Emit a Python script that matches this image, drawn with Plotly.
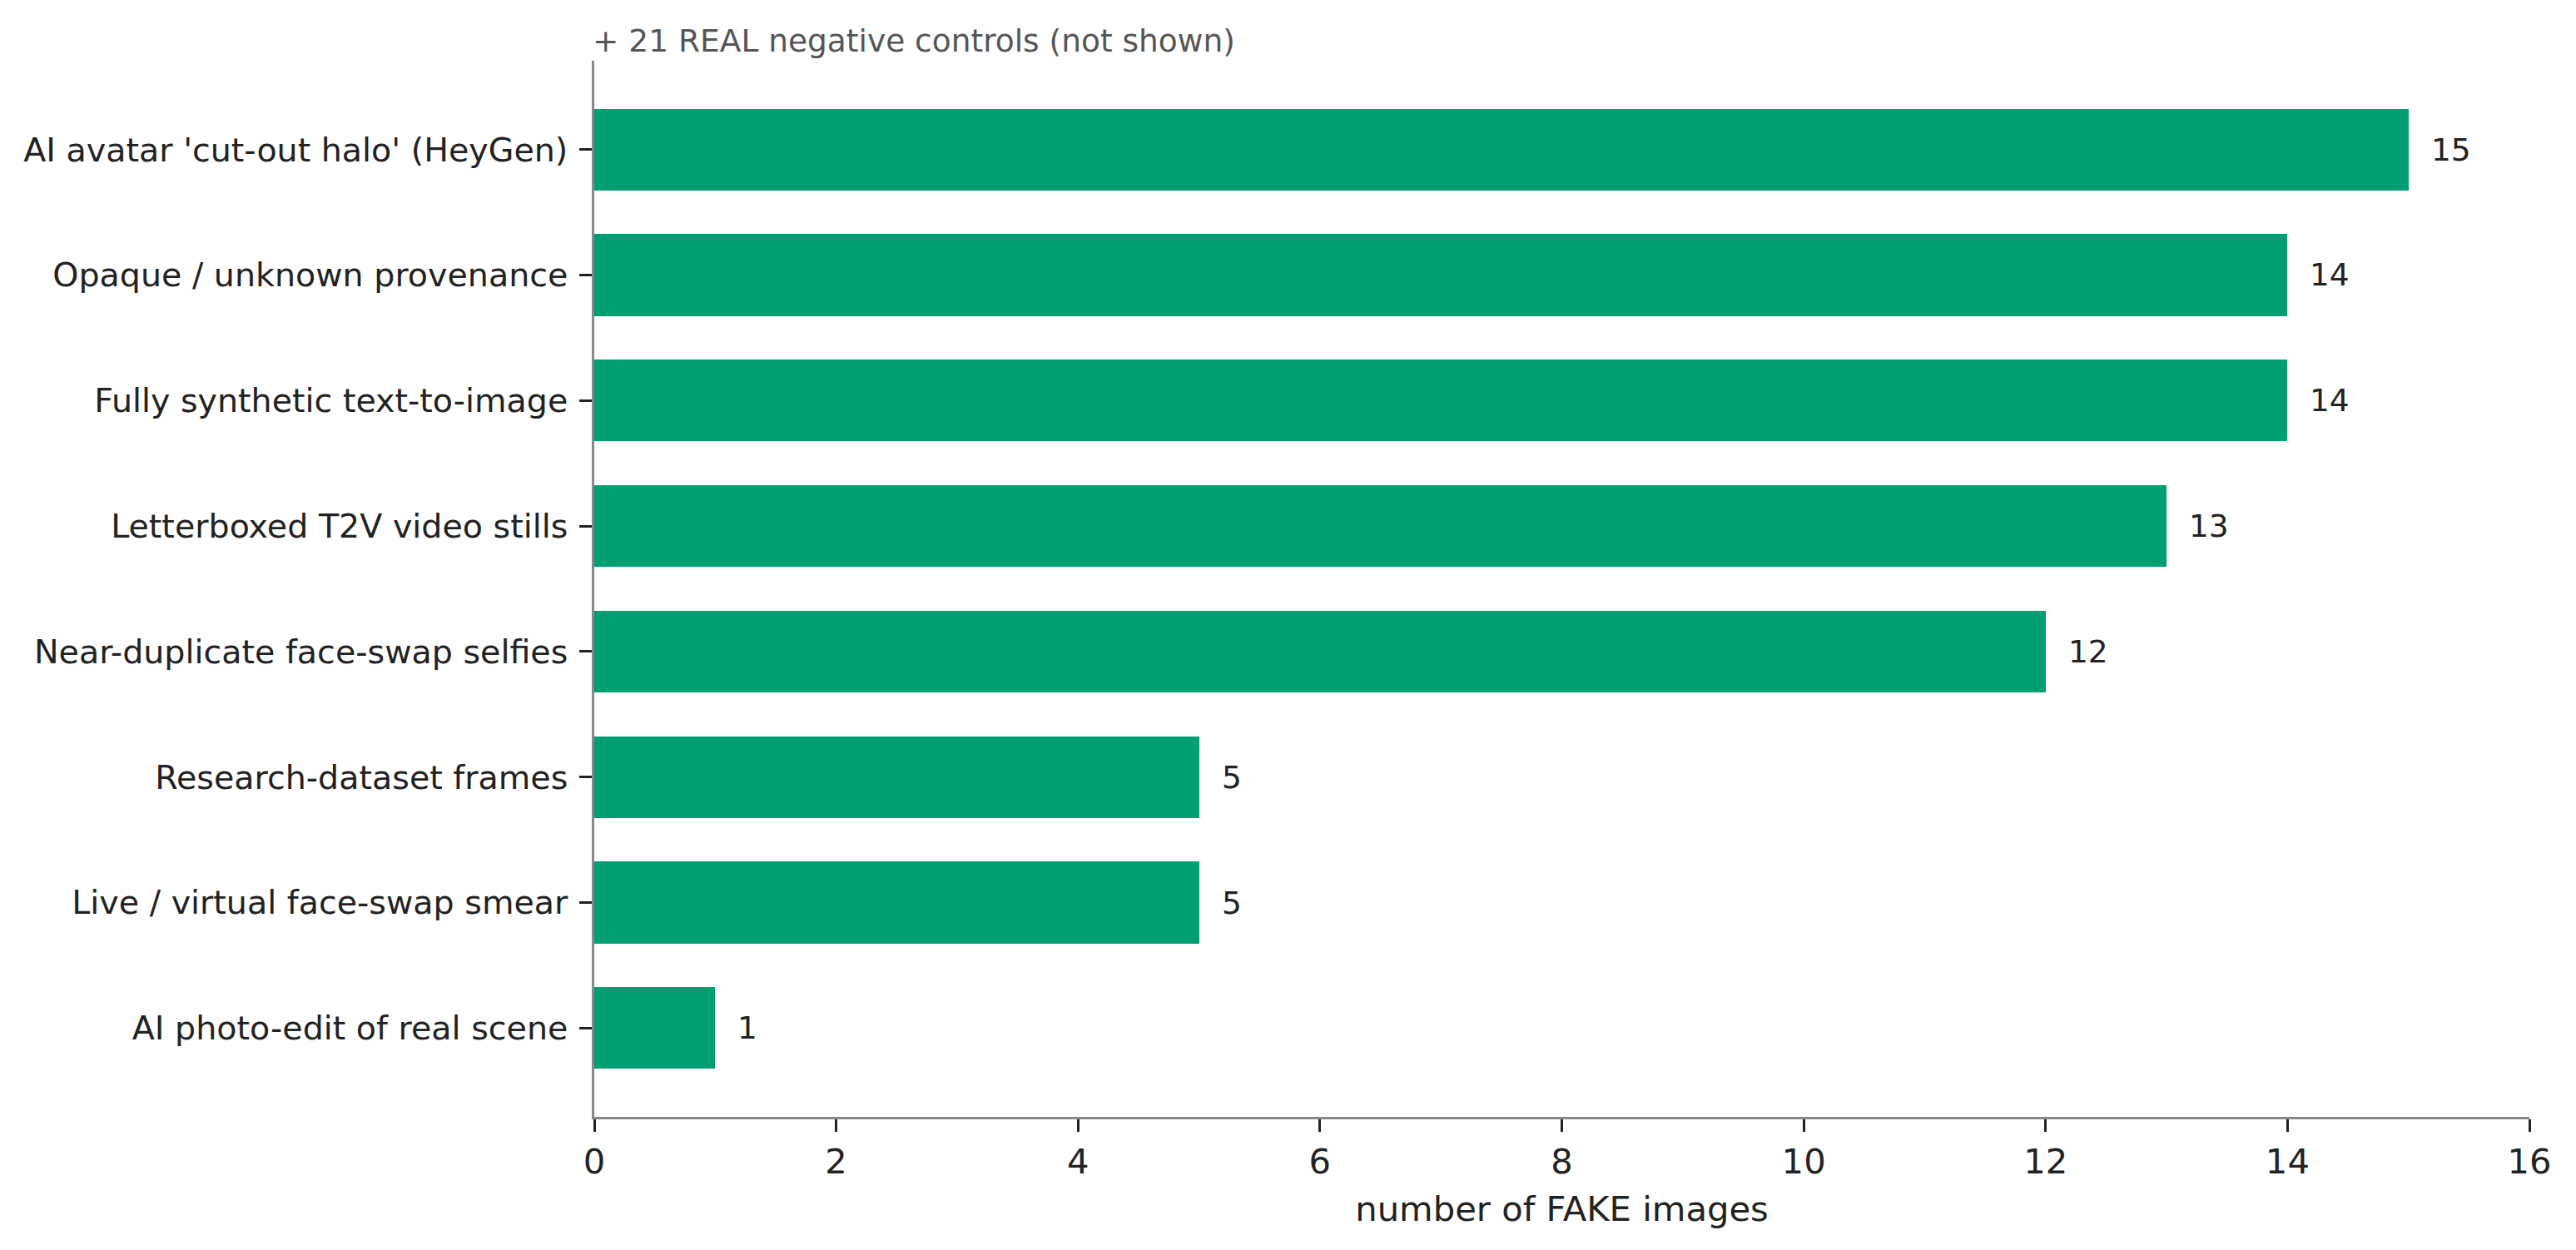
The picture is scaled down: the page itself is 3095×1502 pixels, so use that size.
import plotly.graph_objects as go

categories = [
    "AI avatar 'cut-out halo' (HeyGen)",
    "Opaque / unknown provenance",
    "Fully synthetic text-to-image",
    "Letterboxed T2V video stills",
    "Near-duplicate face-swap selfies",
    "Research-dataset frames",
    "Live / virtual face-swap smear",
    "AI photo-edit of real scene",
]
counts = [15, 14, 14, 13, 12, 5, 5, 1]
x_ticks = [0, 2, 4, 6, 8, 10, 12, 14, 16]
note = "+ 21 REAL negative controls (not shown)"
x_title = "number of FAKE images"

# bottom-to-top order for plotly
cats_bt = categories[::-1]
vals_bt = counts[::-1]

FONT = "DejaVu Sans"
TICK_PX = 41.7
YLAB_PX = 39.6
SMALL_PX = 37.5
DARK = "#222222"
SPINE = "#888888"

fig = go.Figure()
fig.add_trace(go.Bar(
    y=cats_bt, x=vals_bt, orientation="h",
    width=0.65, marker=dict(color="#009E73", line=dict(width=0)),
    hoverinfo="skip",
))

for c, v in zip(cats_bt, vals_bt):
    fig.add_annotation(
        x=v, y=c, xref="x", yref="y", text=str(v), showarrow=False,
        xanchor="left", yanchor="middle", xshift=25,
        font=dict(family=FONT, size=SMALL_PX, color=DARK),
    )

fig.add_annotation(
    x=0, y=1, xref="paper", yref="paper", text=note, showarrow=False,
    xanchor="left", yanchor="bottom", yshift=0, xshift=-4,
    font=dict(family=FONT, size=SMALL_PX, color="#555555"),
)

fig.update_layout(
    width=3095, height=1502,
    margin=dict(l=714, r=56, t=73, b=160, pad=0),
    paper_bgcolor="white", plot_bgcolor="white",
    showlegend=False,
    font=dict(family=FONT, size=TICK_PX, color=DARK),
    bargap=0,
)
fig.update_xaxes(
    range=[0, 16], tickmode="array", tickvals=x_ticks,
    ticks="outside", ticklen=14.6, tickwidth=3.3, tickcolor=DARK,
    showline=True, linecolor=SPINE, linewidth=3.3,
    showgrid=False, zeroline=False, automargin=False,
    tickfont=dict(family=FONT, size=TICK_PX, color=DARK),
    title=dict(text=x_title, font=dict(family=FONT, size=TICK_PX, color=DARK), standoff=20),
    ticklabelstandoff=0,
)
fig.update_yaxes(
    type="category", categoryorder="array", categoryarray=cats_bt,
    range=[-0.7075, 7.7075],
    ticks="outside", ticklen=14.6, tickwidth=3.3, tickcolor=DARK,
    showline=True, linecolor=SPINE, linewidth=3.3,
    showgrid=False, zeroline=False, automargin=False,
    tickfont=dict(family=FONT, size=YLAB_PX, color=DARK),
    ticklabelstandoff=6,
)

fig.write_html("out.html")
